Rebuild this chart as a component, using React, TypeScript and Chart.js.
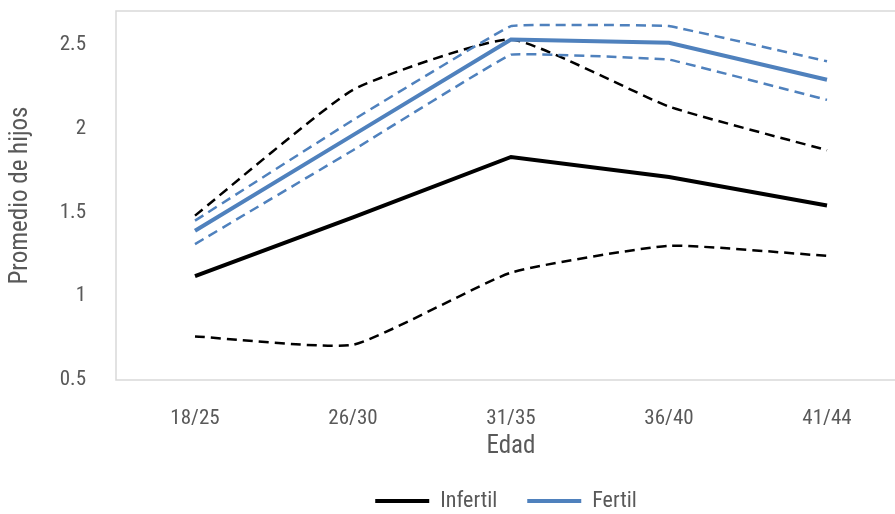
import React, { useEffect, useRef } from "react";
import { Chart, registerables } from "chart.js";

Chart.register(...registerables);

const categories = ["18/25", "26/30", "31/35", "36/40", "41/44"];
const infertil = [1.12, 1.47, 1.83, 1.71, 1.54];
const infertilUpper = [1.48, 2.23, 2.53, 2.13, 1.87];
const infertilLower = [0.76, 0.71, 1.14, 1.3, 1.24];
const fertil = [1.39, 1.96, 2.53, 2.51, 2.29];
const fertilUpper = [1.45, 2.05, 2.61, 2.61, 2.4];
const fertilLower = [1.31, 1.87, 2.44, 2.41, 2.17];

const BLUE = "#4f81bd";
const GRAY_TEXT = "#595959";
const FONT = '"Liberation Sans Narrow", "Arial Narrow", "Roboto Condensed", "Liberation Sans", sans-serif';

const boxPlugin = {
  id: "plotBox",
  afterDraw(chart: any) {
    const { ctx, chartArea } = chart;
    ctx.save();
    ctx.strokeStyle = "#d9d9d9";
    ctx.lineWidth = 1.5;
    ctx.strokeRect(chartArea.left, chartArea.top, chartArea.right - chartArea.left, chartArea.bottom - chartArea.top);
    ctx.restore();
  },
};

export default function App() {
  const ref = useRef<HTMLCanvasElement>(null);
  useEffect(() => {
    if (!ref.current) return;
    const solid = (label: string, data: number[], color: string) => ({
      label,
      data,
      borderColor: color,
      backgroundColor: color,
      borderWidth: 4,
      pointRadius: 0,
      pointStyle: "line",
      tension: 0,
      fill: false,
    });
    const dashed = (label: string, data: number[], color: string, tension: number) => ({
      label,
      data,
      borderColor: color,
      backgroundColor: color,
      borderWidth: 2.5,
      borderDash: [10, 6],
      pointRadius: 0,
      tension,
      fill: false,
    });
    const chart = new Chart(ref.current, {
      type: "line",
      data: {
        labels: categories,
        datasets: [
          solid("Fertil", fertil, BLUE),
          dashed("Fertil sup", fertilUpper, BLUE, 0.05),
          dashed("Fertil inf", fertilLower, BLUE, 0.05),
          solid("Infertil", infertil, "#000000"),
          dashed("Infertil sup", infertilUpper, "#000000", 0.15),
          dashed("Infertil inf", infertilLower, "#000000", 0.15),
        ] as any,
      },
      options: {
        animation: false,
        responsive: false,
        layout: { padding: { left: 0, top: 11, right: 0, bottom: 8 } },
        plugins: {
          tooltip: { enabled: false },
          legend: {
            position: "bottom",
            reverse: true,
            labels: {
              filter: (item: any) => item.text === "Infertil" || item.text === "Fertil",
              usePointStyle: true,
              pointStyleWidth: 54,
              boxHeight: 22,
              padding: 30,
              color: GRAY_TEXT,
              font: { family: FONT, size: 22 },
            },
          },
        },
        scales: {
          x: {
            offset: true,
            grid: { display: false },
            border: { display: false },
            ticks: { color: GRAY_TEXT, font: { family: FONT, size: 21 }, padding: 18, maxRotation: 0 },
            title: {
              display: true,
              text: "Edad",
              color: GRAY_TEXT,
              font: { family: FONT, size: 25, lineHeight: 1.0 },
              padding: { top: 0, bottom: 1 },
            },
            afterFit: (s: any) => {
              s.height = 80;
              s.paddingLeft = 0;
              s.paddingRight = 0;
            },
          },
          y: {
            min: 0.5,
            max: 2.7,
            grid: { display: false },
            border: { display: false },
            ticks: {
              stepSize: 0.5,
              includeBounds: false,
              color: GRAY_TEXT,
              font: { family: FONT, size: 21 },
              padding: 22,
              callback: (v: any) => String(Number(v)),
            },
            title: {
              display: true,
              text: "Promedio de hijos",
              color: GRAY_TEXT,
              font: { family: FONT, size: 25 },
              padding: { top: 6, bottom: 0 },
            },
            afterFit: (s: any) => {
              s.width = 116;
              s.paddingTop = 0;
              s.paddingBottom = 0;
            },
          },
          yRight: {
            position: "right",
            min: 0.5,
            max: 2.7,
            grid: { display: false },
            border: { display: false },
            ticks: { display: false },
            afterFit: (s: any) => {
              s.width = 106;
              s.paddingTop = 0;
              s.paddingBottom = 0;
            },
          },
        },
      },
      plugins: [boxPlugin],
    } as any);
    return () => chart.destroy();
  }, []);
  return (
    <div style={{ position: "fixed", left: 0, top: 0, width: 895, height: 514, overflow: "hidden", background: "#fff" }}>
      <canvas ref={ref} width={1012} height={530} style={{ display: "block" }} />
    </div>
  );
}
